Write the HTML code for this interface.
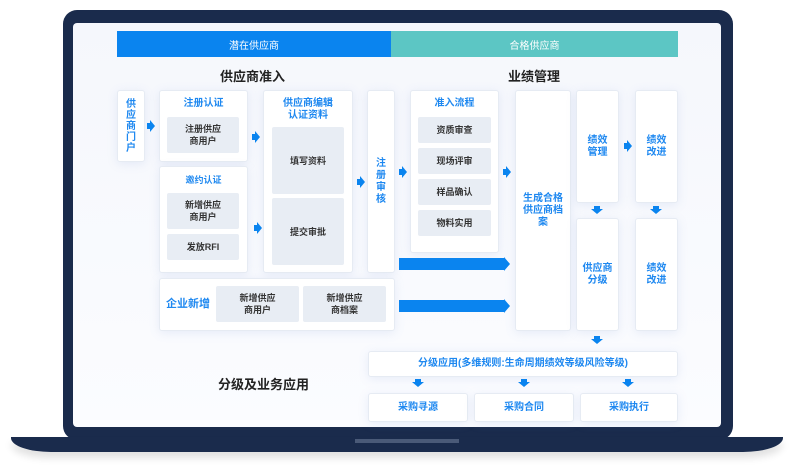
<!DOCTYPE html>
<html><head><meta charset="utf-8"><style>
body{margin:0;width:794px;height:467px;background:#fff;position:relative;overflow:hidden;font-family:"Liberation Sans","Noto Sans CJK SC",sans-serif}
.a{position:absolute;box-sizing:border-box}
.frame{left:63px;top:10px;width:670px;height:430px;background:#1a2b4c;border-radius:14px}
.screen{left:73px;top:23px;width:648px;height:404px;background:linear-gradient(180deg,#f5f7fc,#fbfcff);border-radius:4px}
.base{left:11px;top:437px;width:772px;height:15px;background:#1a2b4c;border-radius:0 0 40px 40px/0 0 14px 14px;box-shadow:0 6px 8px rgba(0,0,0,.12)}
.notch{left:355px;top:439px;width:104px;height:4px;background:#4a5a78}
.box{background:#fff;border:1px solid #e6ebf3;border-radius:3px;box-shadow:0 2px 10px rgba(120,150,210,.15)}
.in{background:#e8edf4;border-radius:2px;font-size:9px;color:#333;display:flex;align-items:center;justify-content:center;text-align:center;line-height:12px;font-weight:bold}
.bl{color:#1e88f0;font-size:10px;text-align:center;line-height:12px;font-weight:bold}
.c{display:flex;align-items:center;justify-content:center;text-align:center}
.ra{width:8px;height:12px}
.ra::before{content:"";position:absolute;left:0;top:3px;width:3px;height:6px;background:#0a84ef}
.ra::after{content:"";position:absolute;left:3px;top:0;border-top:6px solid transparent;border-bottom:6px solid transparent;border-left:5px solid #0a84ef}
.da{width:12px;height:8px}
.da::before{content:"";position:absolute;left:3px;top:0;width:6px;height:3px;background:#0a84ef}
.da::after{content:"";position:absolute;left:0;top:3px;border-left:6px solid transparent;border-right:6px solid transparent;border-top:5px solid #0a84ef}
.big{height:12px;background:#0a84ef}
.tri{width:0;height:0;border-top:7px solid transparent;border-bottom:7px solid transparent;border-left:6px solid #0a84ef}
.t{font-size:13px;color:#222;font-weight:bold}
</style></head><body>
<div class="a frame"></div>
<div class="a screen"></div>
<div class="a base"></div>
<div class="a notch"></div>

<div class="a c" style="left:117px;top:31px;width:274px;height:26px;background:#0a84ef;color:#fff;font-size:10px">潜在供应商</div>
<div class="a c" style="left:391px;top:31px;width:287px;height:26px;background:#5cc6c4;color:#fff;font-size:10px">合格供应商</div>
<div class="a t" style="left:220px;top:66px">供应商准入</div>
<div class="a t" style="left:508px;top:66px">业绩管理</div>

<div class="a box bl c" style="left:117px;top:90px;width:28px;height:72px;flex-direction:column;line-height:11px">供<br>应<br>商<br>门<br>户</div>
<div class="a box" style="left:159px;top:90px;width:89px;height:72px"><div class="bl" style="margin-top:7px">注册认证</div></div>
<div class="a in" style="left:167px;top:117px;width:72px;height:36px">注册供应<br>商用户</div>
<div class="a box" style="left:159px;top:166px;width:89px;height:107px"><div class="bl" style="margin-top:7px;font-size:9px">邀约认证</div></div>
<div class="a in" style="left:167px;top:193px;width:72px;height:36px">新增供应<br>商用户</div>
<div class="a in" style="left:167px;top:234px;width:72px;height:26px">发放RFI</div>
<div class="a box" style="left:263px;top:90px;width:90px;height:183px"><div class="bl" style="margin-top:7px">供应商编辑<br>认证资料</div></div>
<div class="a in" style="left:272px;top:127px;width:72px;height:67px">填写资料</div>
<div class="a in" style="left:272px;top:198px;width:72px;height:67px">提交审批</div>
<div class="a box bl c" style="left:367px;top:90px;width:28px;height:183px">注<br>册<br>审<br>核</div>
<div class="a box" style="left:159px;top:278px;width:236px;height:53px"></div>
<div class="a bl" style="left:166px;top:298px;font-size:11px">企业新增</div>
<div class="a in" style="left:216px;top:286px;width:83px;height:36px">新增供应<br>商用户</div>
<div class="a in" style="left:303px;top:286px;width:83px;height:36px">新增供应<br>商档案</div>

<div class="a box" style="left:410px;top:90px;width:89px;height:163px"><div class="bl" style="margin-top:7px">准入流程</div></div>
<div class="a in" style="left:418px;top:117px;width:73px;height:26px">资质审查</div>
<div class="a in" style="left:418px;top:148px;width:73px;height:26px">现场评审</div>
<div class="a in" style="left:418px;top:179px;width:73px;height:26px">样品确认</div>
<div class="a in" style="left:418px;top:210px;width:73px;height:26px">物料实用</div>
<div class="a big" style="left:399px;top:258px;width:105px"></div><div class="a tri" style="left:504px;top:257px"></div>
<div class="a big" style="left:399px;top:300px;width:105px"></div><div class="a tri" style="left:504px;top:299px"></div>

<div class="a box bl c" style="left:515px;top:90px;width:56px;height:241px">生成合格<br>供应商档<br>案</div>
<div class="a box bl c" style="left:576px;top:90px;width:43px;height:113px">绩效<br>管理</div>
<div class="a box bl c" style="left:635px;top:90px;width:43px;height:113px">绩效<br>改进</div>
<div class="a box bl c" style="left:576px;top:218px;width:43px;height:113px">供应商<br>分级</div>
<div class="a box bl c" style="left:635px;top:218px;width:43px;height:113px">绩效<br>改进</div>
<div class="a da" style="left:591px;top:206px"></div>
<div class="a da" style="left:650px;top:206px"></div>
<div class="a da" style="left:591px;top:336px"></div>

<div class="a ra" style="left:147px;top:120px"></div>
<div class="a ra" style="left:252px;top:131px"></div>
<div class="a ra" style="left:254px;top:222px"></div>
<div class="a ra" style="left:357px;top:176px"></div>
<div class="a ra" style="left:399px;top:166px"></div>
<div class="a ra" style="left:503px;top:166px"></div>
<div class="a ra" style="left:624px;top:140px"></div>

<div class="a t" style="left:218px;top:374px">分级及业务应用</div>
<div class="a box bl c" style="left:368px;top:351px;width:310px;height:26px">分级应用(多维规则:生命周期绩效等级风险等级)</div>
<div class="a da" style="left:412px;top:379px"></div>
<div class="a da" style="left:518px;top:379px"></div>
<div class="a da" style="left:622px;top:379px"></div>
<div class="a box bl c" style="left:368px;top:393px;width:100px;height:29px">采购寻源</div>
<div class="a box bl c" style="left:474px;top:393px;width:100px;height:29px">采购合同</div>
<div class="a box bl c" style="left:580px;top:393px;width:98px;height:29px">采购执行</div>
</body></html>
